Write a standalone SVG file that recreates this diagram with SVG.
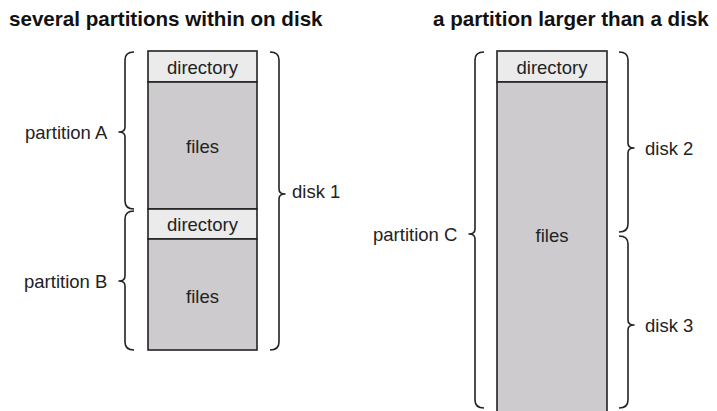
<svg xmlns="http://www.w3.org/2000/svg" width="717" height="411" viewBox="0 0 717 411">
<style>
.t{font-family:"Liberation Sans",Arial,sans-serif;font-size:20.6px;font-weight:bold;fill:#111}
.l{font-family:"Liberation Sans",Arial,sans-serif;font-size:18.5px;fill:#222}
.dir{fill:#ebebeb;stroke:#222;stroke-width:1.6}
.fil{fill:#cdcbce;stroke:#222;stroke-width:1.6}
.br{fill:none;stroke:#222;stroke-width:1.6;stroke-linejoin:round}
</style>
<rect width="717" height="411" fill="#fff"/>
<text class="t" x="9" y="26">several partitions within on disk</text>
<text class="t" x="433" y="26">a partition larger than a disk</text>
<g id="diskA-dir"><rect class="dir" x="148" y="51" width="109" height="31"/><text class="l" x="202.5" y="74" text-anchor="middle">directory</text></g>
<g id="diskA-files"><rect class="fil" x="148" y="82" width="109" height="127"/><text class="l" x="202.5" y="153" text-anchor="middle">files</text></g>
<g id="diskB-dir"><rect class="dir" x="148" y="209" width="109" height="30"/><text class="l" x="202.5" y="231" text-anchor="middle">directory</text></g>
<g id="diskB-files"><rect class="fil" x="148" y="239" width="109" height="111"/><text class="l" x="202.5" y="303" text-anchor="middle">files</text></g>
<g id="diskC-dir"><rect class="dir" x="497" y="51" width="110" height="31"/><text class="l" x="552" y="74" text-anchor="middle">directory</text></g>
<g id="diskC-files"><rect class="fil" x="497" y="82" width="110" height="340"/><text class="l" x="552" y="242" text-anchor="middle">files</text></g>
<g id="connectors">
<path class="br" d="M134 52 Q125 52 125 60 L125 127 Q125 132 119 132 Q125 132 125 137 L125 201 Q125 209 134 209"/>
<path class="br" d="M134 211 Q125 211 125 219 L125 276 Q125 281 119 281 Q125 281 125 286 L125 342 Q125 350 134 350"/>
<path class="br" d="M270 52 Q279 52 279 60 L279 189 Q279 194 285 194 Q279 194 279 199 L279 342 Q279 350 270 350"/>
<path class="br" d="M484 52 Q475 52 475 60 L475 229 Q475 234 469 234 Q475 234 475 239 L475 400 Q475 408 484 408"/>
<path class="br" d="M619 52 Q628 52 628 60 L628 143 Q628 148 634 148 Q628 148 628 153 L628 224 Q628 232 619 232"/>
<path class="br" d="M619 236 Q628 236 628 244 L628 320 Q628 325 634 325 Q628 325 628 330 L628 400 Q628 408 619 408"/>
</g>
<g id="labels">
<text class="l" x="25" y="139">partition A</text>
<text class="l" x="24" y="288">partition B</text>
<text class="l" x="292" y="198">disk 1</text>
<text class="l" x="373" y="241">partition C</text>
<text class="l" x="645" y="155">disk 2</text>
<text class="l" x="645" y="332">disk 3</text>
</g>
</svg>
